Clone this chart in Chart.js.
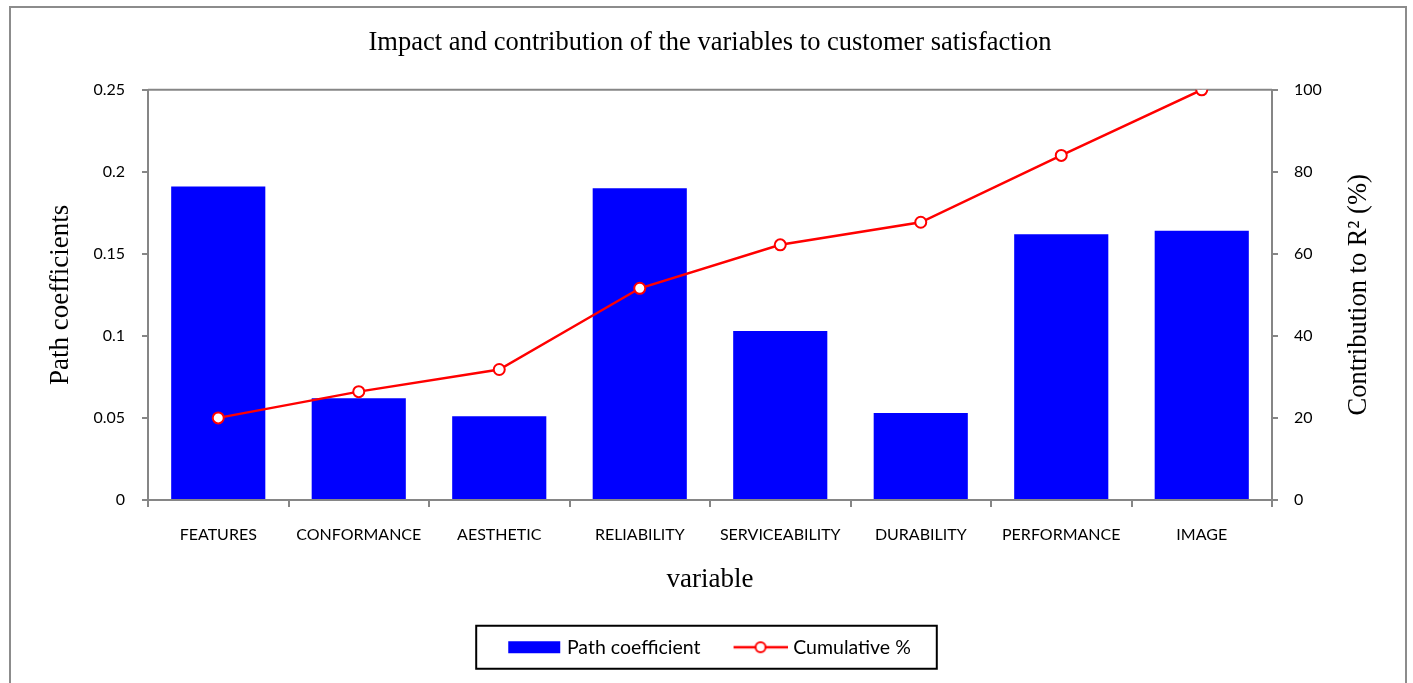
<!DOCTYPE html>
<html>
<head>
<meta charset="utf-8">
<title>Impact and contribution of the variables to customer satisfaction</title>
<script src="https://cdn.jsdelivr.net/npm/chart.js@4.4.1/dist/chart.umd.min.js"></script>
<style>
    html, body { margin: 0; padding: 0; background: #fff; overflow: hidden; }
    #frame {
        position: absolute; left: 9px; top: 6px; width: 1398px; height: 700px;
        border: 2px solid #8c8c8c; box-sizing: border-box;
    }
    #chart { position: absolute; left: 0; top: 0; }
</style>
</head>
<body>
<div id="frame"></div>
<canvas id="chart" width="1413" height="683"></canvas>
<script>
const categories = ["FEATURES", "CONFORMANCE", "AESTHETIC", "RELIABILITY", "SERVICEABILITY", "DURABILITY", "PERFORMANCE", "IMAGE"];
const pathCoefficient = [0.191, 0.062, 0.051, 0.190, 0.103, 0.053, 0.162, 0.164];
const cumulativePct = [20.0, 26.4, 31.8, 51.6, 62.2, 67.7, 84.0, 100];
const leftTicks = ["0", "0.05", "0.1", "0.15", "0.2", "0.25"];
const rightTicks = ["0", "20", "40", "60", "80", "100"];

const AXIS_GRAY = "#868686";
const SANS = "Lato, 'Open Sans', sans-serif";
const SERIF = "'Liberation Serif', 'DejaVu Serif', serif";

// little pictures for the legend (bar swatch, line with marker)
function legendSymbol(kind) {
    let c = document.createElement("canvas");
    c.width = 56;
    c.height = 14;
    let g = c.getContext("2d");
    if (kind === "bar") {
        g.fillStyle = "#0000ff";
        g.fillRect(3, 1, 52, 12);
    } else {
        g.strokeStyle = "#ff0000";
        g.lineWidth = 2.5;
        g.beginPath();
        g.moveTo(2, 7);
        g.lineTo(56, 7);
        g.stroke();
        g.beginPath();
        g.arc(29, 7, 5, 0, Math.PI * 2);
        g.fillStyle = "#fff";
        g.fill();
        g.lineWidth = 2;
        g.stroke();
    }
    return c;
}
const symbols = [legendSymbol("bar"), legendSymbol("line")];

// black box round the legend
const legendFrame = {
    id: "legendFrame",
    afterDraw(chart) {
        const boxes = chart.legend && chart.legend.legendHitBoxes;
        if (!boxes || !boxes.length) return;
        let l = Math.min(...boxes.map(b => b.left));
        let r = Math.max(...boxes.map(b => b.left + b.width));
        let cy = boxes[0].top + boxes[0].height / 2;
        const ctx = chart.ctx;
        ctx.save();
        ctx.strokeStyle = "#000";
        ctx.lineWidth = 2;
        ctx.strokeRect(l - 33, cy - 21.5, r - l + 59, 43);
        ctx.restore();
    }
};

// top edge of the plot area
const plotTop = {
    id: "plotTop",
    beforeDatasetsDraw(chart) {
        const { ctx, chartArea: a } = chart;
        ctx.save();
        ctx.strokeStyle = AXIS_GRAY;
        ctx.lineWidth = 2;
        ctx.beginPath();
        ctx.moveTo(a.left, a.top);
        ctx.lineTo(a.right, a.top);
        ctx.stroke();
        ctx.restore();
    }
};

// right axis title reads bottom-to-top, like the left one
const rightTitle = {
    id: "rightTitle",
    afterDraw(chart) {
        const s = chart.scales.y1;
        const t = s.options.title;
        const ctx = chart.ctx;
        ctx.save();
        ctx.font = `${t.font.size}px ${t.font.family}`;
        ctx.fillStyle = t.color;
        ctx.textAlign = "center";
        ctx.textBaseline = "middle";
        ctx.translate(s.right - t.font.size * 0.6, (s.top + s.bottom) / 2);
        ctx.rotate(-Math.PI / 2);
        ctx.fillText(t.text, 0, 0);
        ctx.restore();
    }
};

new Chart(document.getElementById("chart").getContext("2d"), {
    type: "bar",
    data: {
        labels: categories,
        datasets: [{
            type: "bar",
            label: "Path coefficient",
            data: pathCoefficient,
            yAxisID: "y",
            backgroundColor: "#0000ff",
            borderWidth: 0,
            categoryPercentage: 1,
            barPercentage: 0.67,
            order: 1
        }, {
            type: "line",
            label: "Cumulative %",
            data: cumulativePct,
            yAxisID: "y1",
            borderColor: "#ff0000",
            borderWidth: 2.5,
            pointRadius: 5.5,
            pointBackgroundColor: "#fff",
            pointBorderColor: "#ff0000",
            pointBorderWidth: 2,
            tension: 0,
            order: 0
        }]
    },
    options: {
        responsive: false,
        animation: false,
        layout: { padding: { left: 45, right: 38, top: 20, bottom: 16 } },
        plugins: {
            tooltip: { enabled: false },
            title: {
                display: true,
                text: "Impact and contribution of the variables to customer satisfaction",
                color: "#000",
                font: { family: SERIF, size: 26.5, weight: "normal" },
                padding: { top: 7, bottom: 31 }
            },
            legend: {
                position: "bottom",
                labels: {
                    usePointStyle: true,
                    pointStyleWidth: 48,
                    boxHeight: 12,
                    padding: 35,
                    color: "#000",
                    font: { family: SANS, size: 19.5 },
                    generateLabels: chart => chart.data.datasets.map((ds, i) => ({
                        text: ds.label,
                        pointStyle: symbols[i],
                        fillStyle: "#fff",
                        strokeStyle: "#fff",
                        lineWidth: 0,
                        hidden: false,
                        datasetIndex: i
                    }))
                }
            }
        },
        scales: {
            x: {
                offset: true,
                grid: { offset: true, drawOnChartArea: false, color: AXIS_GRAY, lineWidth: 2, tickLength: 7 },
                border: { color: AXIS_GRAY, width: 2 },
                ticks: { color: "#000", font: { family: SANS, size: 16 }, padding: 18, maxRotation: 0, autoSkip: false },
                title: {
                    display: true, text: "variable", color: "#000",
                    font: { family: SERIF, size: 27 },
                    padding: { top: 2, bottom: 6 }
                }
            },
            y: {
                position: "left",
                min: 0,
                max: 0.25,
                grid: { drawOnChartArea: false, color: AXIS_GRAY, lineWidth: 2, tickLength: 6 },
                border: { color: AXIS_GRAY, width: 2 },
                ticks: {
                    stepSize: 0.05, color: "#000", padding: 17,
                    font: { family: SANS, size: 16 },
                    callback: (v, i) => leftTicks[i]
                },
                title: {
                    display: true, text: "Path coefficients", color: "#000",
                    font: { family: SERIF, size: 27 }, padding: 0
                },
                afterFit: s => { s.width = 103; }
            },
            y1: {
                position: "right",
                min: 0,
                max: 100,
                grid: { drawOnChartArea: false, color: AXIS_GRAY, lineWidth: 2, tickLength: 6 },
                border: { color: AXIS_GRAY, width: 2 },
                ticks: {
                    stepSize: 20, color: "#000", padding: 16,
                    font: { family: SANS, size: 16 },
                    callback: (v, i) => rightTicks[i]
                },
                // drawn by the rightTitle plugin
                title: {
                    display: false, text: "Contribution to R² (%)", color: "#000",
                    font: { family: SERIF, size: 26.5 }, padding: 0
                },
                afterFit: s => { s.width = 103; }
            }
        }
    },
    plugins: [legendFrame, plotTop, rightTitle]
});
</script>
</body>
</html>
